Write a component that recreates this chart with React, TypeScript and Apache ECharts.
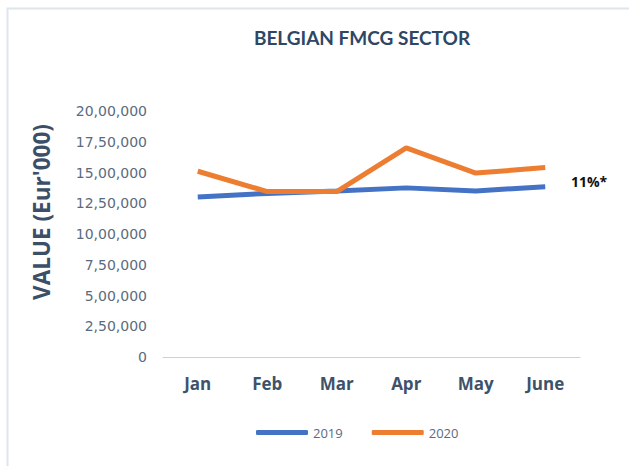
import React, { useEffect, useRef } from "react";
import * as echarts from "echarts";

const categories = ["Jan", "Feb", "Mar", "Apr", "May", "June"];
const series2019 = [1300000, 1330000, 1350000, 1375000, 1350000, 1385000];
const series2020 = [1510000, 1345000, 1345000, 1700000, 1495000, 1540000];
const yTickLabels = [
  "0",
  "2,50,000",
  "5,00,000",
  "7,50,000",
  "10,00,000",
  "12,50,000",
  "15,00,000",
  "17,50,000",
  "20,00,000",
];
const yInterval = 250000;
const annotationText = "11%*";
const yAxisTitle = "VALUE (Eur'000)";

export default function App() {
  const ref = useRef<HTMLDivElement>(null);
  useEffect(() => {
    if (!ref.current) return;
    const chart = echarts.init(ref.current, undefined, { renderer: "svg" });
    chart.setOption({
      animation: false,
      backgroundColor: "#ffffff",
      title: {
        text: "BELGIAN FMCG SECTOR",
        left: 357,
        textAlign: "center",
        top: 23,
        textStyle: {
          fontFamily: "Lato",
          fontWeight: "bold",
          fontSize: 19,
          color: "#2e4763",
        },
      },
      grid: { left: 163, right: 49, top: 111, bottom: 109, containLabel: false },
      legend: {
        left: 251,
        top: 421,
        icon: "roundRect",
        itemWidth: 52,
        itemHeight: 5,
        itemGap: 29,
        textStyle: { fontFamily: "Open Sans", fontSize: 13, color: "#5a6b7e" },
        data: ["2019", "2020"],
      },
      xAxis: {
        type: "category",
        data: categories,
        boundaryGap: true,
        offset: 5,
        axisLine: { lineStyle: { color: "#c8d2dc", width: 1 } },
        axisTick: { inside: true, length: 5, lineStyle: { color: "#c8d2dc" } },
        axisLabel: {
          margin: 13,
          fontFamily: "Open Sans",
          fontWeight: "bold",
          fontSize: 17,
          color: "#3d526b",
        },
      },
      yAxis: {
        type: "value",
        min: 0,
        max: 2000000,
        interval: yInterval,
        splitLine: { show: false },
        axisLine: { show: false },
        axisTick: { show: false },
        axisLabel: {
          margin: 16,
          fontFamily: "DejaVu Sans",
          fontSize: 14,
          color: "#5a6b7e",
          formatter: (v: number) => yTickLabels[Math.round(v / yInterval)] ?? "",
        },
      },
      series: [
        {
          name: "2019",
          type: "line",
          data: series2019,
          showSymbol: false,
          symbol: "none",
          color: "#4472c4",
          lineStyle: { width: 5, color: "#4472c4" },
          z: 2,
        },
        {
          name: "2020",
          type: "line",
          data: series2020,
          showSymbol: false,
          symbol: "none",
          color: "#ed7d31",
          lineStyle: { width: 5, color: "#ed7d31" },
          z: 3,
        },
      ],
      graphic: [
        {
          type: "rect",
          left: 5,
          top: 6,
          shape: { x: 0, y: 0, width: 660, height: 500 },
          style: { fill: "none", stroke: "#dde5ed", lineWidth: 2 },
          silent: true,
        },
        {
          type: "text",
          x: 41,
          y: 212,
          rotation: Math.PI / 2,
          style: {
            text: yAxisTitle,
            fontFamily: "Open Sans",
            fontWeight: "bold",
            fontSize: 22.5,
            fill: "#3b5068",
            align: "center",
            verticalAlign: "middle",
          },
        },
        {
          type: "text",
          x: 571,
          y: 181,
          style: {
            text: annotationText,
            fontFamily: "Open Sans",
            fontWeight: "bold",
            fontSize: 14,
            fill: "#111111",
            verticalAlign: "middle",
          },
        },
      ],
    });
    return () => chart.dispose();
  }, []);
  return (
    <div
      ref={ref}
      style={{ position: "fixed", left: 0, top: 0, width: 629, height: 466 }}
    />
  );
}
